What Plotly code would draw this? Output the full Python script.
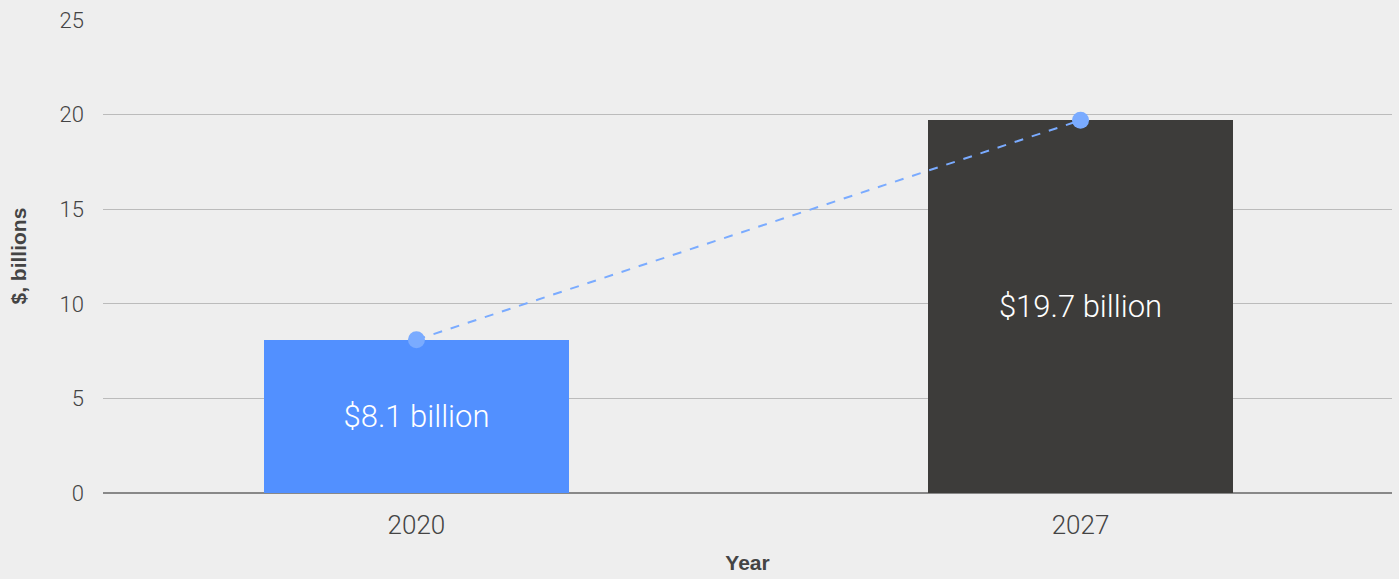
import plotly.graph_objects as go

# Market size by year, $ billions
years = ["2020", "2027"]
values = [8.1, 19.7]
labels = ["$8.1 billion", "$19.7 billion"]
bar_colors = ["#5290ff", "#3d3c3a"]
y_ticks = [0, 5, 10, 15, 20, 25]

fig = go.Figure()

fig.add_trace(go.Bar(
    x=years,
    y=values,
    width=0.458,
    marker=dict(color=bar_colors, line=dict(width=0)),
    text=labels,
    textposition="inside",
    insidetextanchor="middle",
    textangle=0,
    textfont=dict(family="Roboto", size=31, color="#ffffff", weight=300),
    hoverinfo="skip",
    showlegend=False,
))

fig.add_trace(go.Scatter(
    x=years,
    y=values,
    mode="lines+markers",
    line=dict(color="#7aabff", width=2, dash="dash"),
    marker=dict(color="#7aabff", size=17),
    hoverinfo="skip",
    showlegend=False,
))

# Vertical axis title placed near the left edge of the page
fig.add_annotation(
    text="$, billions",
    xref="paper", yref="paper",
    x=-85 / 1289, y=0.5,
    xanchor="center", yanchor="middle",
    textangle=-90,
    showarrow=False,
    font=dict(family="Liberation Sans", size=21, color="#444444", weight="bold"),
)

fig.update_layout(
    width=1399,
    height=579,
    margin=dict(l=103, r=7, t=20, b=86),
    paper_bgcolor="#eeeeee",
    plot_bgcolor="#eeeeee",
    font=dict(family="Roboto", color="#444444", size=20, weight=300),
    xaxis=dict(
        type="category",
        range=[-0.472, 1.469],
        showgrid=False,
        showline=False,
        ticks="",
        ticklabelstandoff=14,
        tickfont=dict(size=26, color="#444444"),
        title=dict(text="Year", font=dict(family="Liberation Sans", size=21, color="#444444", weight="bold"), standoff=16),
    ),
    yaxis=dict(
        range=[0, 25],
        tickvals=y_ticks,
        showgrid=True,
        gridcolor="#bbbbbb",
        gridwidth=1,
        zeroline=True,
        zerolinecolor="#888888",
        zerolinewidth=2,
        showline=False,
        ticks="",
        ticklabelstandoff=18,
        tickfont=dict(size=22, color="#444444"),
    ),
    bargap=0,
)

fig.write_html("out.html")
